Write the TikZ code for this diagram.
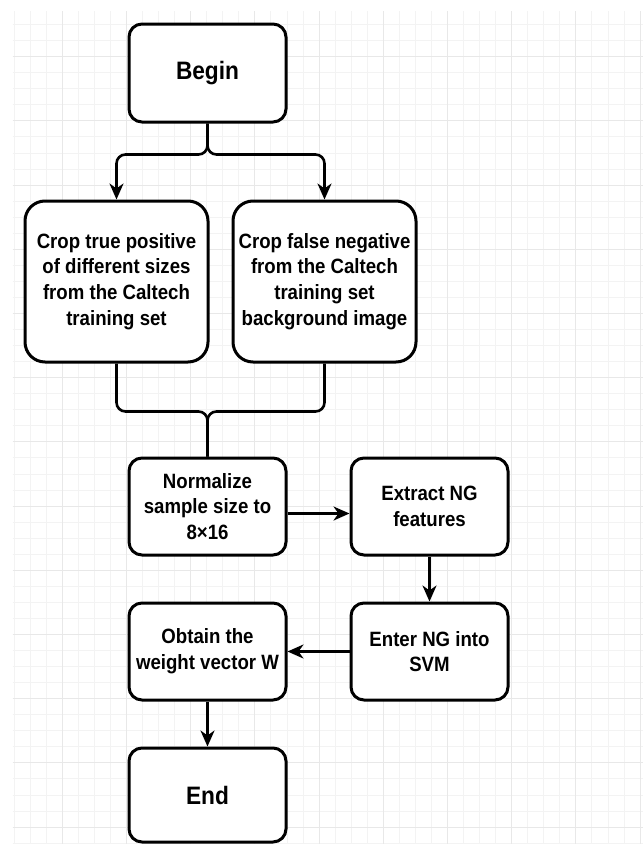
\documentclass[tikz,border=0pt]{standalone}
\usepackage{fontspec}
\setmainfont{Liberation Sans}[FakeStretch=0.9]
\usetikzlibrary{arrows.meta}
\definecolor{gridminor}{HTML}{F3F3F3}
\definecolor{gridmajor}{HTML}{E8E8E8}

\begin{document}
\begin{tikzpicture}[x=1pt,y=-1pt,
  box/.style={draw,line width=3pt,rounded corners=13pt,fill=white,align=center,
    inner sep=2pt,minimum width=157pt,minimum height=97pt,
    font=\bfseries\fontsize{20.7}{25.7}\selectfont},
  bigbox/.style={box,minimum width=183pt,minimum height=161pt,rounded corners=20pt},
  endbox/.style={box,font=\bfseries\fontsize{25.2}{30}\selectfont},
  flow/.style={line width=2.6pt,rounded corners=9pt},
  arr/.style={flow,-{Stealth[length=16pt,width=14pt,inset=5pt]}}]
  \useasboundingbox (0,0) rectangle (643,844);
  % background grid
  \foreach \i in {0,...,39}
    \draw[gridminor,line width=1pt] ({14.15+16.05*\i},11) -- ({14.15+16.05*\i},844);
  \foreach \j in {1,...,52}
    \draw[gridminor,line width=1pt] (12.7,{8.55+16.05*\j}) -- (643,{8.55+16.05*\j});
  \foreach \i in {0,...,9}
    \draw[gridmajor,line width=1pt] ({62.3+64.2*\i},11) -- ({62.3+64.2*\i},844);
  \foreach \j in {0,...,12}
    \draw[gridmajor,line width=1pt] (12.7,{56.7+64.2*\j}) -- (643,{56.7+64.2*\j});

  \node[endbox,minimum height=98pt] (begin) at (207.5,73) {Begin};
  \node[bigbox] (cropL) at (116.5,281.5) {Crop true positive\\of different sizes\\from the Caltech\\training set};
  \node[bigbox] (cropR) at (324.5,281.5) {Crop false negative\\from the Caltech\\training set\\background image};
  \node[box] (norm) at (207.5,506.5) {Normalize\\sample size to\\8×16};
  \node[box] (extract) at (429.5,506.5) {Extract NG\\features};
  \node[box] (enter) at (429.5,651.5) {Enter NG into\\SVM};
  \node[box] (obtain) at (207.5,651.5) {Obtain the\\weight vector W};
  \node[endbox,minimum height=94pt] (finish) at (207.5,795) {End};

  \draw[arr] (begin.south) -- ++(0,31) -| (cropL.north);
  \draw[arr] (begin.south) -- ++(0,31) -| (cropR.north);
  \draw[flow] (cropL.south) -- ++(0,48) -| (norm.north);
  \draw[flow] (cropR.south) -- ++(0,48) -| (norm.north);
  \draw[arr] ([yshift=-7pt]norm.east) -- ([yshift=-7pt]extract.west);
  \draw[arr] (extract.south) -- (enter.north);
  \draw[arr] (enter.west) -- (obtain.east);
  \draw[arr] (obtain.south) -- (finish.north);
\end{tikzpicture}
\end{document}
